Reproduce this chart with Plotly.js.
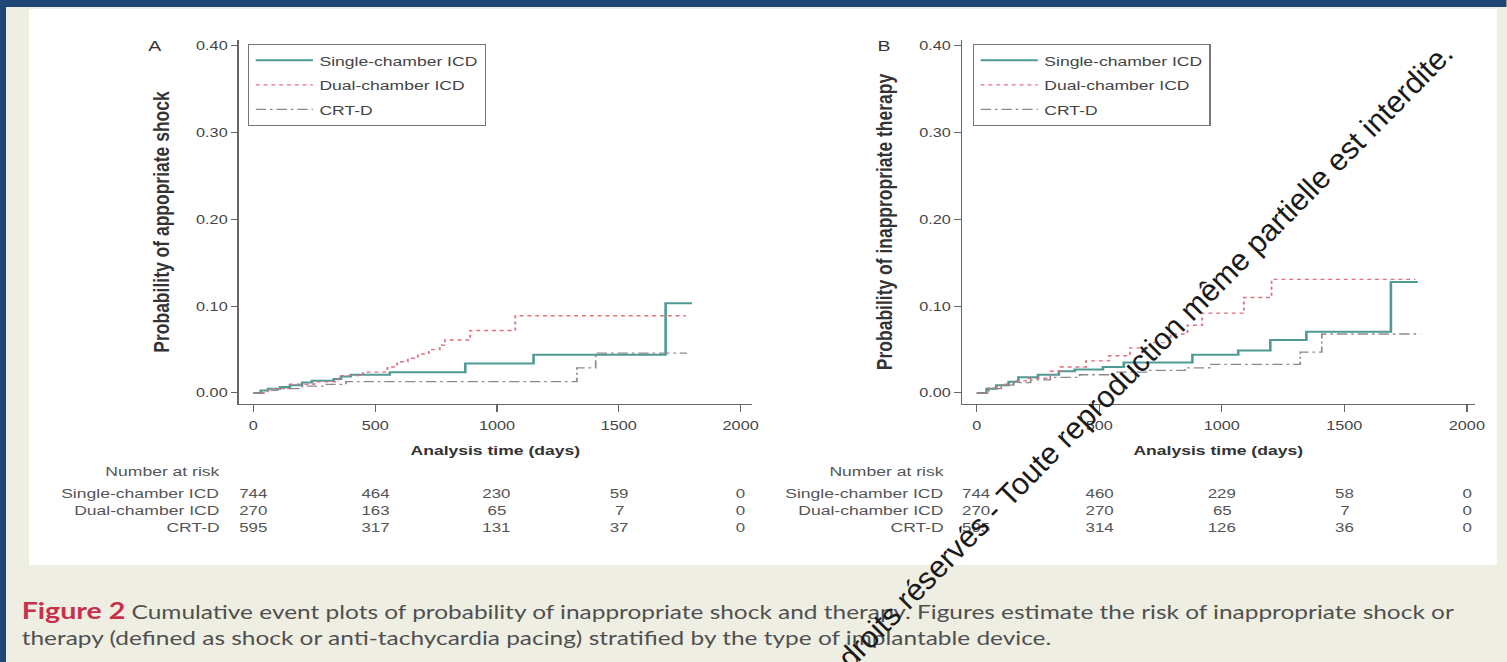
<!DOCTYPE html>
<html><head><meta charset="utf-8">
<script src="https://cdn.plot.ly/plotly-3.0.1.min.js"></script>
<style>
html,body{margin:0;padding:0;width:1507px;height:662px;overflow:hidden;background:#efeee3;}
#wrap{position:absolute;left:0;top:0;width:1507px;height:662px;overflow:hidden;}
#chart{position:absolute;left:0;top:0;width:1159px;height:662px;transform:scaleX(1.3);transform-origin:0 0;}
#wm{position:absolute;left:781px;top:704px;transform:rotate(-45.5deg);transform-origin:0 0;font-family:'Liberation Sans',Arial,sans-serif;font-size:30.5px;color:#1a1a1a;white-space:nowrap;line-height:1;}
</style></head>
<body><div id="wrap"><div id="chart"></div><div id="wm">Tous droits réservés - Toute reproduction même partielle est interdite.</div></div>
<script>
// ---------- data ----------
const seriesNames = ['Single-chamber ICD', 'Dual-chamber ICD', 'CRT-D'];

// Panel A : probability of appropriate shock
const aSingleT = [0, 30, 60, 110, 150, 200, 240, 330, 360, 400, 560, 870, 1150, 1692, 1800];
const aSingleP = [0, 0.003, 0.005, 0.007, 0.009, 0.012, 0.014, 0.016, 0.019, 0.021, 0.024, 0.034, 0.044, 0.1035, 0.1035];
const aDualT = [0, 60, 150, 250, 350, 450, 550, 590, 634, 675, 720, 765, 786, 890, 1075, 1775];
const aDualP = [0, 0.005, 0.010, 0.013, 0.020, 0.024, 0.030, 0.036, 0.040, 0.045, 0.050, 0.055, 0.061, 0.072, 0.089, 0.089];
const aCrtT = [0, 50, 100, 200, 300, 380, 1328, 1405, 1780];
const aCrtP = [0, 0.003, 0.005, 0.008, 0.010, 0.013, 0.029, 0.046, 0.046];

// Panel B : probability of inappropriate therapy
const bSingleT = [0, 40, 80, 130, 170, 250, 335, 400, 515, 600, 880, 1067, 1198, 1345, 1690, 1800];
const bSingleP = [0, 0.005, 0.009, 0.013, 0.018, 0.021, 0.025, 0.027, 0.030, 0.035, 0.044, 0.049, 0.061, 0.0705, 0.128, 0.128];
const bDualT = [0, 50, 100, 150, 200, 300, 340, 446, 540, 625, 708, 791, 860, 920, 1090, 1203, 1790];
const bDualP = [0, 0.006, 0.010, 0.014, 0.017, 0.025, 0.030, 0.037, 0.043, 0.052, 0.058, 0.068, 0.078, 0.092, 0.110, 0.131, 0.131];
const bCrtT = [0, 50, 100, 150, 220, 300, 420, 560, 700, 850, 950, 1320, 1408, 1810];
const bCrtP = [0, 0.005, 0.009, 0.012, 0.015, 0.018, 0.021, 0.024, 0.026, 0.029, 0.033, 0.047, 0.068, 0.068];

// axis ticks
const xTickVals = [0, 500, 1000, 1500, 2000];
const xTickText = ['0', '500', '1000', '1500', '2000'];
const yTickVals = [0, 0.1, 0.2, 0.3, 0.4];
const yTickText = ['0.00', '0.10', '0.20', '0.30', '0.40'];

// number at risk
const riskTimes = [0, 500, 1000, 1500, 2000];
const riskASingle = [744, 464, 230, 59, 0];
const riskADual = [270, 163, 65, 7, 0];
const riskACrt = [595, 317, 131, 37, 0];
const riskBSingle = [744, 460, 229, 58, 0];
const riskBDual = [270, 270, 65, 7, 0];
const riskBCrt = [595, 314, 126, 36, 0];

const titleA = 'Probability of appopriate shock';
const titleB = 'Probability of inappropriate therapy';
const xTitle = 'Analysis time (days)';
const captionLabel = 'Figure 2';
const captionLine1 = 'Cumulative event plots of probability of inappropriate shock and therapy. Figures estimate the risk of inappropriate shock or';
const captionLine2 = 'therapy (defined as shock or anti-tachycardia pacing) stratified by the type of implantable device.';

// ---------- styling / layout ----------
const FONT = 'Liberation Sans, Arial, sans-serif';
const fx = px => px / 1507;
const fy = py => 1 - py / 662;
const colors = ['#4f9a95', '#e0707f', '#8a8a8a'];
const lines = [
  {color: colors[0], width: 2, dash: 'solid'},
  {color: colors[1], width: 1.4, dash: '3px,3px'},
  {color: colors[2], width: 1.3, dash: '8px,3px,2px,3px'}
];

function mk(t, p, i, xa, ya, lg) {
  return {x: t, y: p, type: 'scatter', mode: 'lines', name: seriesNames[i],
    line: Object.assign({shape: 'hv'}, lines[i]), xaxis: xa, yaxis: ya, legend: lg,
    legendgroup: lg + i, hoverinfo: 'skip'};
}
const traces = [
  mk(aSingleT, aSingleP, 0, 'x', 'y', 'legend'),
  mk(aDualT, aDualP, 1, 'x', 'y', 'legend'),
  mk(aCrtT, aCrtP, 2, 'x', 'y', 'legend'),
  mk(bSingleT, bSingleP, 0, 'x2', 'y2', 'legend2'),
  mk(bDualT, bDualP, 1, 'x2', 'y2', 'legend2'),
  mk(bCrtT, bCrtP, 2, 'x2', 'y2', 'legend2')
];

const tickFont = {family: FONT, size: 12.5, color: '#444'};
function xAx(dom, rng, anchor) {
  return {domain: dom, range: rng, anchor: anchor, showline: true, linecolor: '#666', linewidth: 1,
    ticks: 'outside', ticklen: 7, tickcolor: '#666', tickwidth: 1, ticklabelstandoff: 3,
    tickvals: xTickVals, ticktext: xTickText, showgrid: false, zeroline: false,
    tickfont: tickFont, automargin: false, fixedrange: true,
    title: {text: '<b>' + xTitle + '</b>', font: {family: FONT, size: 13.5, color: '#333'}, standoff: 13}};
}
function yAx(dom, rng, anchor, title) {
  return {domain: dom, range: rng, anchor: anchor, showline: true, linecolor: '#666', linewidth: 1,
    ticks: 'outside', ticklen: 5, tickcolor: '#666', tickwidth: 1,
    tickvals: yTickVals, ticktext: yTickText, showgrid: false, zeroline: false,
    tickfont: tickFont, automargin: false, fixedrange: true,
    title: {text: '<b>' + title + '</b>', font: {family: FONT, size: 17.5, color: '#333'}, standoff: 15}};
}
const yDom = [fy(404), fy(40)];
const yRng = [-0.0127, 0.4069];

const legendBase = {xanchor: 'left', yanchor: 'top', bgcolor: '#ffffff', bordercolor: '#777',
  borderwidth: 1, font: {family: FONT, size: 13.5, color: '#444'}, itemwidth: 44,
  tracegroupgap: 4, itemclick: false, itemdoubleclick: false};

const annotations = [];
const txt = (s, x, y, opt) => annotations.push(Object.assign({text: s, x: x, y: y, xref: 'paper', yref: 'paper',
  showarrow: false, xanchor: 'left', yanchor: 'middle', font: {family: FONT, size: 13.5, color: '#555'}}, opt || {}));

txt('A', fx(145), fy(46), {font: {family: FONT, size: 15, color: '#333'}});
txt('B', fx(875), fy(46), {font: {family: FONT, size: 15, color: '#333'}});

const riskRowsY = [fy(471), fy(493), fy(510), fy(527)];
function riskTable(xref, labelRight, single, dual, crt) {
  txt('Number at risk', labelRight, riskRowsY[0], {xanchor: 'right'});
  const rows = [[seriesNames[0], single], [seriesNames[1], dual], [seriesNames[2], crt]];
  rows.forEach((r, k) => {
    txt(r[0], labelRight, riskRowsY[k + 1], {xanchor: 'right'});
    r[1].forEach((v, j) => annotations.push({text: String(v), x: riskTimes[j], y: riskRowsY[k + 1],
      xref: xref, yref: 'paper', showarrow: false, xanchor: 'center', yanchor: 'middle',
      font: {family: FONT, size: 13, color: '#555'}}));
  });
}
riskTable('x', fx(222), riskASingle, riskADual, riskACrt);
riskTable('x2', fx(947), riskBSingle, riskBDual, riskBCrt);

const CAPFONT = {family: 'Lato, Open Sans, sans-serif', size: 18.8, color: '#505050'};
txt('<span style="color:#c8304a;font-size:22px"><b>' + captionLabel + '</b></span> ' + captionLine1, fx(20), fy(610), {font: CAPFONT});
txt(captionLine2, fx(20), fy(637), {font: CAPFONT});

const shapes = [
  {type: 'rect', xref: 'paper', yref: 'paper', x0: fx(29), x1: fx(1497), y0: fy(565), y1: fy(9),
    fillcolor: '#ffffff', line: {width: 0}, layer: 'below'},
  {type: 'rect', xref: 'paper', yref: 'paper', x0: 0, x1: 1, y0: fy(7), y1: 1,
    fillcolor: '#1e4677', line: {width: 0}, layer: 'below'},
  {type: 'rect', xref: 'paper', yref: 'paper', x0: 0, x1: fx(6), y0: 0, y1: 1,
    fillcolor: '#1e4677', line: {width: 0}, layer: 'below'}
];

const layout = {
  width: 1159, height: 662, autosize: false,
  margin: {l: 0, r: 0, t: 0, b: 0, pad: 0},
  paper_bgcolor: '#efeee3', plot_bgcolor: 'rgba(0,0,0,0)',
  showlegend: true,
  xaxis: xAx([fx(238.8), fx(752)], [-60, 2046], 'y'),
  yaxis: yAx(yDom, yRng, 'x', titleA),
  xaxis2: xAx([fx(962), fx(1475)], [-61, 2032], 'y2'),
  yaxis2: yAx(yDom, yRng, 'x2', titleB),
  legend: Object.assign({x: fx(248), y: fy(44)}, legendBase),
  legend2: Object.assign({x: fx(973), y: fy(44)}, legendBase),
  annotations: annotations,
  shapes: shapes
};

Plotly.newPlot('chart', traces, layout, {displayModeBar: false, staticPlot: true});
</script></body></html>
